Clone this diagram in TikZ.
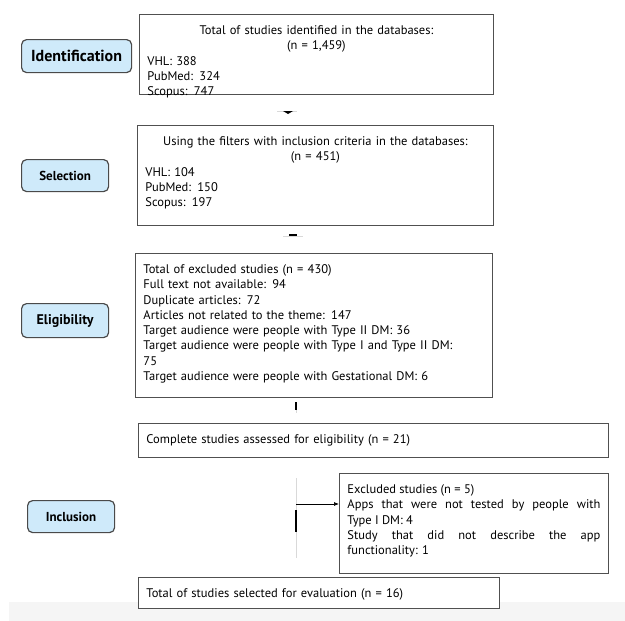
\documentclass[tikz,border=0pt]{standalone}
\usepackage{fontspec}
\setmainfont{PT Sans}
\usetikzlibrary{arrows.meta, positioning, calc}
\definecolor{stagefill}{HTML}{CFEAFA}
\definecolor{stageline}{HTML}{4A4A4A}
\definecolor{boxline}{HTML}{505050}
\definecolor{bandgray}{HTML}{F5F5F5}

\begin{document}
\begin{tikzpicture}[
    x=1pt, y=-1pt,
    stage/.style={draw=stageline, line width=1.2pt, rounded corners=5pt, fill=stagefill, anchor=north west, inner sep=0pt, minimum width=87pt, minimum height=32pt},
    block/.style={draw=boxline, line width=0.9pt, fill=white, anchor=north west, align=left, inner xsep=8pt, inner ysep=8pt, text height=12pt, font=\fontsize{12.5}{15.3}\selectfont},
    faint/.style={draw=gray!30, line width=0.6pt},
    bar/.style={draw=black, line width=2.2pt},
    arrow/.style={-{Latex[length=5pt,width=4pt]}, line width=0.7pt}
]
    \useasboundingbox (0,0) rectangle (625,621);
    \fill[white] (0,0) rectangle (625,621);
    \fill[bandgray] (9,602) rectangle (625,621);

    \node[stage, minimum width=110pt, minimum height=33pt, font=\bfseries\fontsize{16}{19}\selectfont] (ident) at (21,39) {Identification};
    \node[stage, font=\bfseries\fontsize{13}{16}\selectfont] (select) at (21,159) {Selection};
    \node[stage, minimum height=34pt, font=\bfseries\fontsize{14}{17}\selectfont] (elig) at (21,303) {Eligibility};
    \node[stage, font=\bfseries\fontsize{13}{16}\selectfont] (incl) at (27,500) {Inclusion};

    \node[block, text width=338pt, text depth=51.5pt] (found) at (139,14) {{\centering Total of studies identified in the databases:\\ (n = 1,459)\par}VHL: 388\\ PubMed: 324\\ Scopus: 747};
    \node[block, text width=340pt, text depth=72pt] (filtered) at (137,125) {{\centering Using the filters with inclusion criteria in the databases:\\ (n = 451)\par}VHL: 104\\ PubMed: 150\\ Scopus: 197};
    \node[block, text width=341pt, text depth=116pt] (dropped) at (135,253) {Total of excluded studies (n = 430)\\ Full text not available: 94\\ Duplicate articles: 72\\ Articles not related to the theme: 147\\ Target audience were people with Type II DM: 36\\ Target audience were people with Type I and Type II DM:\\ 75\\ Target audience were people with Gestational DM: 6};
    \node[block, text width=454pt, text depth=6pt] (assessed) at (138,423) {Complete studies assessed for eligibility (n = 21)};
    \node[block, align=justify, text width=253pt, text depth=72pt] (excl) at (339,473) {Excluded studies (n = 5)\\ Apps that were not tested by people with\linebreak Type I DM: 4\\ Study that did not describe the app\linebreak functionality: 1};
    \node[block, text width=345pt, text depth=3pt] (final) at (138,577) {Total of studies selected for evaluation (n = 16)};

    \coordinate (k1) at (288,111);
    \coordinate (k2) at (293,236);
    \coordinate (k3) at (296,402);
    \coordinate (k4) at (296,504);

    \draw[faint] (k1) ++(-11,0) -- ++(20,0);
    \fill (k1) ++(-5,0) -- ++(10,0) -- ++(-5,3) -- cycle;
    \draw[faint] (k2) ++(-10,0) -- ++(20,0);
    \fill (k2) ++(-4,-2.5) rectangle ++(8,2.5);
    \draw[faint] (k3) -- ++(0,11);
    \draw[bar] (k3) -- ++(0,8);
    \draw[faint] (k4) ++(0,-26) -- ++(0,80);
    \draw[bar] (k4) ++(0,6) -- ++(0,22);
    \draw[arrow] (k4) -- (k4 -| excl.west);
\end{tikzpicture}
\end{document}
